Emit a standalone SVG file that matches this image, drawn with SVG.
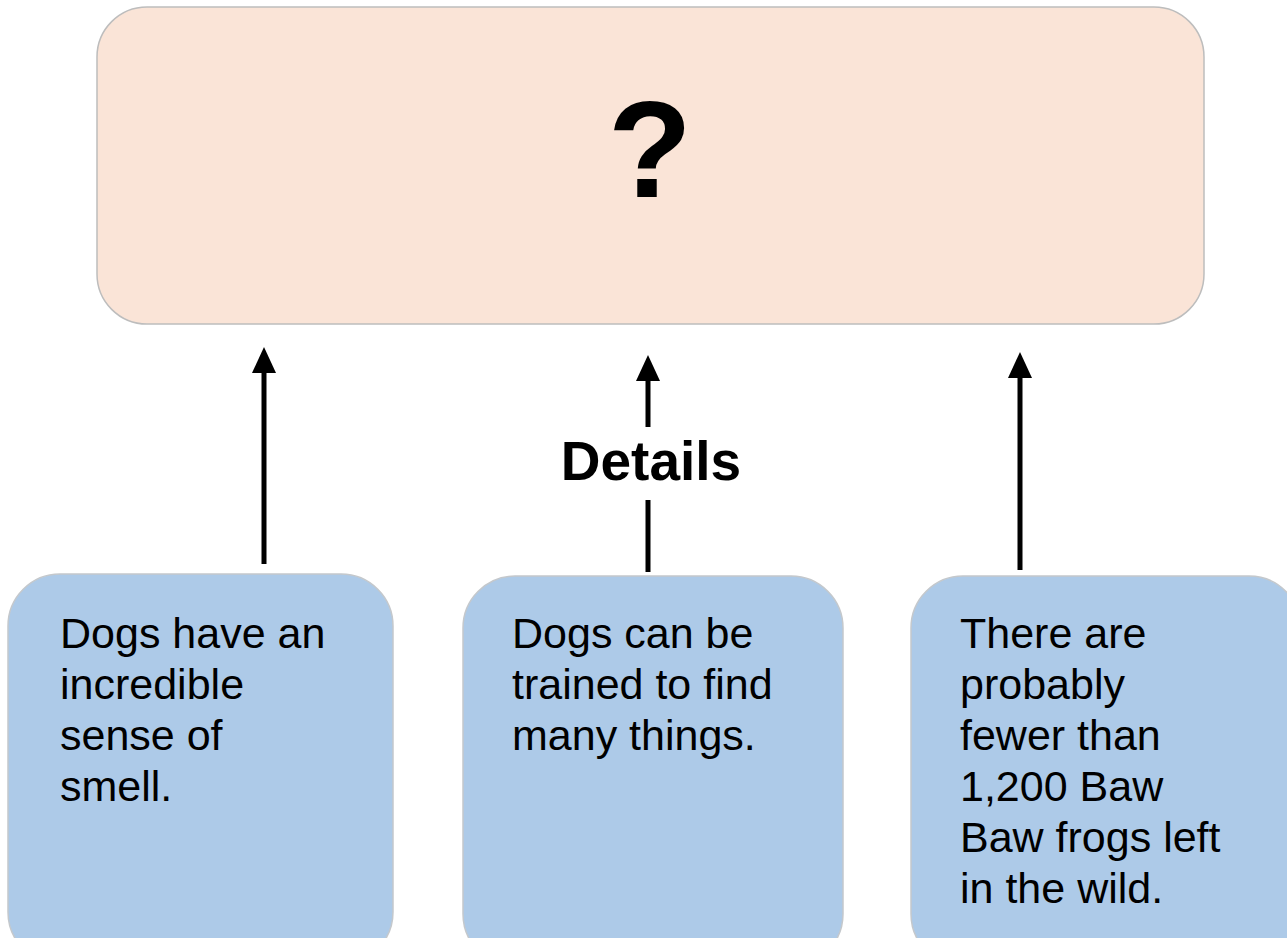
<svg xmlns="http://www.w3.org/2000/svg" width="1287" height="938" viewBox="0 0 1287 938">
<style>
.top{fill:#FAE4D7;stroke:#BDBDBD;stroke-width:1.5}
.det{fill:#ADCAE8;stroke:#C4C8CC;stroke-width:1.5}
.t{font-family:"Liberation Sans",Arial,sans-serif;font-size:43px;fill:#000}
.b{font-family:"Liberation Sans",Arial,sans-serif;font-weight:bold;fill:#000}
.c{stroke:#000;stroke-width:5;fill:none}
.h{fill:#000}
</style>
<rect width="1287" height="938" fill="#fff"/>
<g id="main">
<rect class="top" x="97" y="7" width="1107" height="317" rx="50" ry="50"/>
<text class="b" x="650" y="197" font-size="138" text-anchor="middle">?</text>
</g>
<g id="detail1">
<rect class="det" x="8" y="574" width="385" height="390" rx="52" ry="52"/>
<text class="t" x="60" y="648">Dogs have an</text>
<text class="t" x="60" y="699">incredible</text>
<text class="t" x="60" y="750">sense of</text>
<text class="t" x="60" y="801">smell.</text>
</g>
<g id="detail2">
<rect class="det" x="463" y="576" width="380" height="390" rx="52" ry="52"/>
<text class="t" x="512" y="648">Dogs can be</text>
<text class="t" x="512" y="699">trained to find</text>
<text class="t" x="512" y="750">many things.</text>
</g>
<g id="detail3">
<rect class="det" x="911" y="576" width="390" height="390" rx="52" ry="52"/>
<text class="t" x="960" y="648">There are</text>
<text class="t" x="960" y="699">probably</text>
<text class="t" x="960" y="750">fewer than</text>
<text class="t" x="960" y="801">1,200 Baw</text>
<text class="t" x="960" y="852">Baw frogs left</text>
<text class="t" x="960" y="903">in the wild.</text>
</g>
<g id="connectors">
<line class="c" x1="264" y1="564" x2="264" y2="370"/>
<polygon class="h" points="264,347 276,373 252,373"/>
<line class="c" x1="648" y1="572" x2="648" y2="500"/>
<line class="c" x1="648" y1="427" x2="648" y2="378"/>
<polygon class="h" points="648,355 660,381 636,381"/>
<line class="c" x1="1020" y1="570" x2="1020" y2="375"/>
<polygon class="h" points="1020,352 1032,378 1008,378"/>
<text class="b" x="651" y="480" font-size="55" text-anchor="middle">Details</text>
</g>
</svg>
